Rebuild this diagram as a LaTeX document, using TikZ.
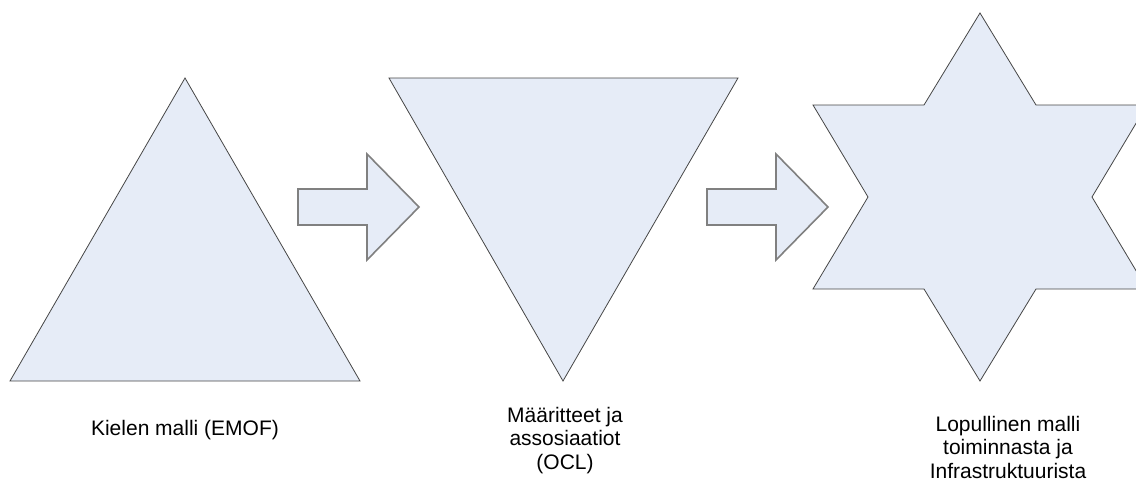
\documentclass[tikz,border=0pt]{standalone}
\usepackage{fontspec}
\setmainfont{Liberation Sans}
\usetikzlibrary{positioning}
\definecolor{shapefill}{RGB}{230,236,247}
\definecolor{shapeline}{RGB}{70,70,70}
\definecolor{arrowline}{RGB}{128,128,128}
\tikzset{
  figure/.style={
    draw = shapeline,
    fill = shapefill,
    line width = 0.4pt,
    line join = miter
  },
  blockarrow/.style={
    draw = arrowline,
    fill = shapefill,
    line width = 0.8pt
  },
  caption/.style={
    align = center,
    inner sep = 0pt,
    anchor = base,
    font = \fontsize{10.5pt}{11.6pt}\selectfont
  }
}
\begin{document}
\begin{tikzpicture}[x=0.5pt,y=-0.5pt]
    \useasboundingbox (0,0) rectangle (1136,482);
    \clip (0,0) rectangle (1136,482);
    \def\base{381}
    \def\top{78}
    % triangles
    \draw[figure] (10,\base) -- (185,\top) -- (360,\base) -- cycle;
    \draw[figure] (389,\top) -- (738,\top) -- (563,\base) -- cycle;
    % star
    \draw[figure] (980,13) -- (1036,105) -- (1147,105) -- (1092,197)
      -- (1147,289) -- (1036,289) -- (980,381) -- (924,289)
      -- (813,289) -- (868,197) -- (813,105) -- (924,105) -- cycle;
    % block arrows
    \foreach \dx in {0,409}{
    \draw[blockarrow] (298+\dx,189) -- (367+\dx,189) -- (367+\dx,154)
      -- (419+\dx,207) -- (367+\dx,260) -- (367+\dx,225) -- (298+\dx,225) -- cycle;}
    % labels (base = last line)
    \node[caption] (emof) at (185,435) {Kielen malli (EMOF)};
    \node[caption] (ocl) at (565,469) {Määritteet ja\\assosiaatiot\\(OCL)};
    \node[caption] (infra) at (1008,478) {Lopullinen malli\\toiminnasta ja\\Infrastruktuurista};
\end{tikzpicture}
\end{document}
